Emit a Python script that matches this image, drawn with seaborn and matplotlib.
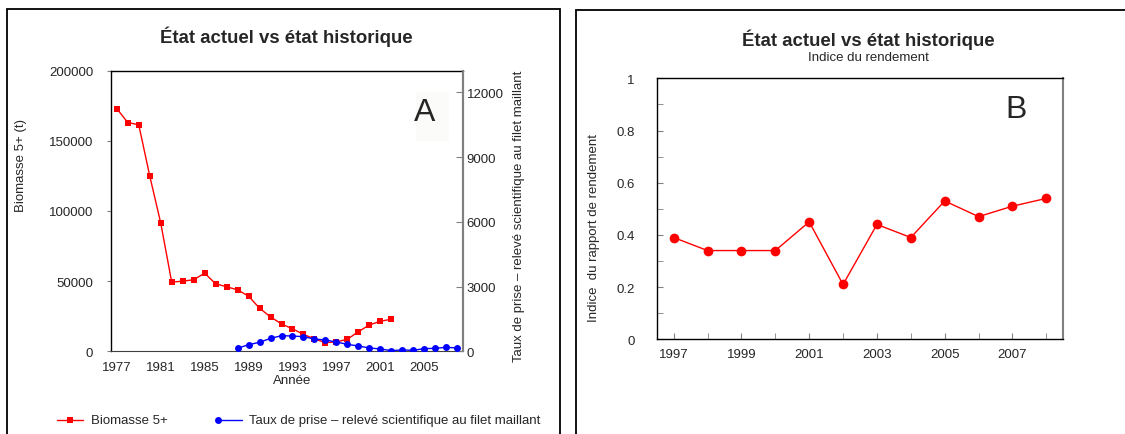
import matplotlib
matplotlib.use("Agg")
import matplotlib.pyplot as plt
from matplotlib.patches import Rectangle
from matplotlib.lines import Line2D
from matplotlib.ticker import MultipleLocator, FixedLocator
import seaborn as sns
import pandas as pd

# ---------------- data ----------------
biomass_years = list(range(1977, 2003))
biomass_values = [173000, 163000, 161500, 125000, 91500, 49300, 50000, 51000, 55700,
                  48100, 46000, 43800, 39300, 30700, 24500, 19500, 16000, 12100,
                  8800, 6200, 6700, 8600, 14000, 18800, 21400, 22900]

catch_years = list(range(1988, 2009))
catch_values = [138, 308, 415, 600, 723, 708, 677, 569, 523, 430, 323, 246, 154,
                108, 31, 62, 46, 123, 138, 185, 154]

index_years = list(range(1997, 2009))
index_values = [0.39, 0.34, 0.34, 0.34, 0.45, 0.21, 0.44, 0.39, 0.53, 0.47, 0.51, 0.54]

title_text = "État actuel vs état historique"
subtitle_b = "Indice du rendement"
label_biomass = "Biomasse 5+"
label_catch = "Taux de prise – relevé scientifique au filet maillant"
ylabel_a = "Biomasse 5+ (t)"
ylabel_a2 = "Taux de prise – relevé scientifique au filet maillant"
xlabel_a = "Année"
ylabel_b = "Indice  du rapport de rendement"

df_bio = pd.DataFrame({"year": biomass_years, "value": biomass_values})
df_catch = pd.DataFrame({"year": catch_years, "value": catch_values})
df_idx = pd.DataFrame({"year": index_years, "value": index_values})

sns.set_style("white")
plt.rcParams["font.family"] = ["Liberation Sans", "DejaVu Sans"]

W, H = 1125, 435
fig = plt.figure(figsize=(W / 100, H / 100), dpi=100)


def fx(px):
    return px / W


def fy(py):
    return 1 - py / H


# panel frames
fig.patches.append(Rectangle((fx(7), fy(470)), fx(553), (470 - 10) / H, transform=fig.transFigure,
                             fill=False, edgecolor="black", linewidth=1.3))
fig.patches.append(Rectangle((fx(576), fy(470)), fx(600), (470 - 11) / H, transform=fig.transFigure,
                             fill=False, edgecolor="black", linewidth=1.3))

FS = 9.5
GREY = "#808080"
RED = "#ff0000"
BLUE = "#0000ff"

# ---------------- panel A ----------------
axA = fig.add_axes([fx(111.3), fy(352.3), fx(462.7 - 111.3), (352.3 - 71.7) / H])
sns.lineplot(data=df_bio, x="year", y="value", ax=axA, color=RED, marker="s",
             markersize=5, markeredgewidth=0, linewidth=1, legend=False)
axA.set_xlim(1976.5, 2008.5)
axA.set_ylim(0, 200000)
axA.yaxis.set_major_locator(MultipleLocator(50000))
axA.xaxis.set_major_locator(FixedLocator(list(range(1977, 2008, 4))))
axA.xaxis.set_minor_locator(MultipleLocator(1))
axA.tick_params(axis="x", which="both", direction="in", length=4, color=GREY, labelsize=FS, pad=7)
axA.tick_params(axis="y", which="both", direction="out", length=3, color=GREY, labelsize=FS, pad=10, left=True)
axA.set_xlabel("")
axA.set_ylabel("")
for s in ["top", "left"]:
    axA.spines[s].set_color("black")
    axA.spines[s].set_linewidth(1)
axA.spines["bottom"].set_color("#404040")
axA.spines["right"].set_color(GREY)
axA.spines["right"].set_linewidth(1.5)

axA2 = axA.twinx()
sns.lineplot(data=df_catch, x="year", y="value", ax=axA2, color=BLUE, marker="o",
             markersize=5, markeredgewidth=0, linewidth=1, legend=False)
axA2.set_ylim(0, 13000)
axA2.yaxis.set_major_locator(MultipleLocator(3000))
axA2.tick_params(axis="y", direction="in", length=5, color=GREY, labelsize=FS, pad=3, right=True)
axA2.set_ylabel("")
axA2.spines["right"].set_color(GREY)
axA2.spines["right"].set_linewidth(1.5)
axA2.spines["left"].set_visible(False)
axA2.spines["top"].set_visible(False)
axA2.spines["bottom"].set_visible(False)

fig.text(fx(20.7), fy(166), ylabel_a, rotation=90, ha="center", va="center", fontsize=FS)
fig.text(fx(518.6), fy(216), ylabel_a2, rotation=90, ha="center", va="center", fontsize=FS)
fig.text(fx(292), fy(381), xlabel_a, ha="center", va="center", fontsize=FS)
fig.text(fx(286.6), fy(37), title_text, ha="center", va="center", fontsize=13.4, fontweight="bold")

# "A" label with faint box
fig.patches.append(Rectangle((fx(416), fy(142)), fx(33), 49 / H, transform=fig.transFigure,
                             facecolor="#fbfbf9", edgecolor="none"))
fig.text(fx(425), fy(113), "A", ha="center", va="center", fontsize=23)

# legend (drawn in figure coordinates)
fig.add_artist(Line2D([fx(57), fx(70), fx(83)], [fy(421)] * 3, color=RED, linewidth=1,
                      marker="s", markersize=5, markeredgewidth=0, markevery=[1],
                      transform=fig.transFigure))
fig.text(fx(91), fy(421), label_biomass, ha="left", va="center", fontsize=FS)
fig.add_artist(Line2D([fx(218), fx(242)], [fy(421)] * 2, color=BLUE, linewidth=1,
                      marker="o", markersize=5, markeredgewidth=0, markevery=[0],
                      transform=fig.transFigure))
fig.text(fx(249), fy(421), label_catch, ha="left", va="center", fontsize=FS)

# ---------------- panel B ----------------
axB = fig.add_axes([fx(656.7), fy(340.3), fx(1063.3 - 656.7), (340.3 - 79.3) / H])
sns.lineplot(data=df_idx, x="year", y="value", ax=axB, color=RED, marker="o",
             markersize=7, markeredgewidth=0, linewidth=1, legend=False)
axB.set_xlim(1996.5, 2008.5)
axB.set_ylim(0, 1)
axB.xaxis.set_major_locator(FixedLocator(list(range(1997, 2009, 2))))
axB.xaxis.set_minor_locator(MultipleLocator(1))
axB.yaxis.set_major_locator(FixedLocator([0, 0.2, 0.4, 0.6, 0.8, 1.0]))
axB.yaxis.set_minor_locator(MultipleLocator(0.1))
axB.set_yticklabels(["0", "0.2", "0.4", "0.6", "0.8", "1"])
axB.tick_params(axis="x", which="both", direction="in", length=4, color=GREY, labelsize=FS, pad=6, bottom=True)
axB.tick_params(axis="y", which="both", direction="in", length=4, color=GREY, labelsize=FS, pad=16, left=True)
axB.set_xlabel("")
axB.set_ylabel("")
for s in ["top", "left", "bottom"]:
    axB.spines[s].set_color("black")
    axB.spines[s].set_linewidth(1)
axB.spines["right"].set_color(GREY)
axB.spines["right"].set_linewidth(1.5)

fig.text(fx(593.5), fy(228), ylabel_b, rotation=90, ha="center", va="center", fontsize=FS)
fig.text(fx(868), fy(40), title_text, ha="center", va="center", fontsize=13.4, fontweight="bold")
fig.text(fx(868), fy(58), subtitle_b, ha="center", va="center", fontsize=FS)
fig.text(fx(1016), fy(110), "B", ha="center", va="center", fontsize=23)

fig.savefig("out.png", dpi=100)
